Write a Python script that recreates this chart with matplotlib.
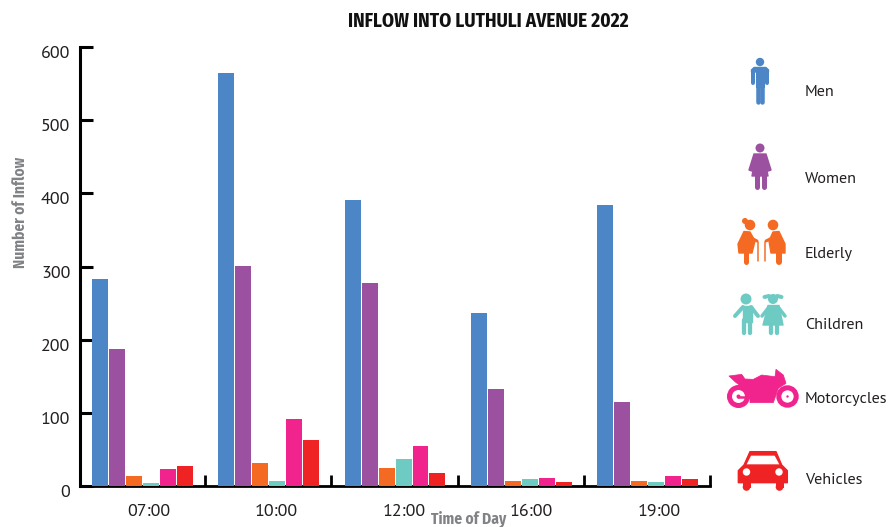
#!/usr/bin/env python3
import logging
import matplotlib
matplotlib.use('Agg')
import matplotlib.pyplot as plt
from matplotlib.patches import Circle, Polygon, Rectangle
from matplotlib.transforms import ScaledTranslation

times = ['07:00', '10:00', '12:00', '16:00', '19:00']
men = [283, 565, 391, 236, 384]
women = [187, 301, 278, 133, 115]
elderly = [14, 31, 25, 7, 7]
children = [4, 7, 37, 9, 5]
motorcycles = [23, 92, 55, 11, 13]
vehicles = [27, 63, 18, 5, 9]
names = ['Men', 'Women', 'Elderly', 'Children', 'Motorcycles', 'Vehicles']
colors = ['#4C86C6', '#9C50A0', '#F56A22', '#6ECBC4', '#F0248C', '#EF2224']
yticks = [0, 100, 200, 300, 400, 500, 600]

logging.getLogger('matplotlib.font_manager').setLevel(logging.ERROR)
plt.rcParams['font.family'] = ['PT Sans', 'Noto Sans', 'DejaVu Sans']
NARROW = ['Fira Sans Condensed', 'Roboto Condensed', 'Liberation Sans', 'DejaVu Sans']
TEXT = '#231F20'

fig = plt.figure(figsize=(8.91, 5.27), dpi=100)
ax = fig.add_axes([80/891, (527-486)/527, 630/891, 439/527])
series = [men, women, elderly, children, motorcycles, vehicles]
step = 17/126.5
for i, vals in enumerate(series):
    xs = [j + (i-2.5)*step for j in range(len(vals))]
    ax.bar(xs, vals, width=16/126.5, color=colors[i], zorder=3, clip_on=False)

ax.set_xlim(-0.4964, 4.484)
ax.set_ylim(0, 600)
ax.spines['top'].set_visible(False)
ax.spines['right'].set_visible(False)
ax.spines['left'].set_linewidth(2.2)
ax.spines['bottom'].set_linewidth(2.0)
ax.set_yticks(yticks)
ax.tick_params(axis='y', direction='in', length=9.5, width=2.2, pad=7,
               labelsize=13, labelcolor=TEXT)
shift = ScaledTranslation(0, -5/100, fig.dpi_scale_trans)
for lab in ax.get_yticklabels():
    lab.set_transform(lab.get_transform() + shift)

ax.set_xticks([j + 0.4956 for j in range(len(times))])
ax.set_xticklabels([])
ax.tick_params(axis='x', which='major', direction='in', length=8, width=2.0)
ax.set_xticks([0.05 + j*127.9/126.5 for j in range(len(times))], minor=True)
ax.set_xticklabels(times, minor=True)
ax.tick_params(axis='x', which='minor', length=0, pad=13, labelsize=13, labelcolor=TEXT)

fig.text(488/891, 1-21/527, 'INFLOW INTO LUTHULI AVENUE 2022', ha='center', va='center',
         family=NARROW, weight='bold', fontsize=13.9, color='#111111')
fig.text(20/891, 1-212/527, 'Number of Inflow', rotation=90, ha='center', va='center',
         family=NARROW, weight='bold', fontsize=11.1, color='#808285')
fig.text(469/891, 1-519/527, 'Time of Day', ha='center', va='center',
         family=NARROW, weight='bold', fontsize=11.1, color='#808285')

# overlay in pixel coordinates for the pictogram legend
ov = fig.add_axes([0, 0, 1, 1], zorder=5)
ov.set_xlim(0, 891)
ov.set_ylim(527, 0)
ov.axis('off')
ov.patch.set_alpha(0)


def limb(pts, w, c):
    ov.plot([p[0] for p in pts], [p[1] for p in pts], color=c, lw=w*0.72,
            solid_capstyle='round', solid_joinstyle='round')


def poly(pts, c, z=2, edge=1.0):
    ov.add_patch(Polygon(pts, closed=True, fc=c, ec=c, lw=edge, joinstyle='round', zorder=z))


def dot(x, y, r, c, z=2):
    ov.add_patch(Circle((x, y), r, fc=c, ec='none', zorder=z))


def zoomed(pts, y0):
    return [(700 + a/3, y0 + b/3) for a, b in pts]


# men
c = colors[0]
dot(760, 62, 4.2, c)
poly([(754, 67.5), (766, 67.5), (768.5, 70), (768.5, 72), (751.5, 72), (751.5, 70)], c)
limb([(753, 71), (753, 83)], 4, c)
limb([(767, 71), (767, 83)], 4, c)
ov.add_patch(Rectangle((755.5, 68), 9, 20, fc=c, ec='none'))
limb([(757.7, 86), (757.7, 102)], 4.5, c)
limb([(762.3, 86), (762.3, 102)], 4.5, c)

# women
c = colors[1]
dot(760, 148, 4.5, c)
poly([(754, 154), (766, 154), (771, 170), (768.5, 171), (766, 165), (768, 176), (752, 176),
      (754, 165), (751.5, 171), (749, 170)], c)
limb([(756.5, 175), (756.5, 187)], 5, c)
limb([(763.5, 175), (763.5, 187)], 5, c)

# elderly
c = colors[2]
dot(750, 225, 5.3, c)
dot(745, 221, 3, c)
dot(773, 225, 5.3, c)
poly([(744, 231.5), (750, 232), (755, 241), (752, 253), (739, 253), (738, 244)], c)
poly([(779, 231.5), (773, 232), (769, 241), (771, 253), (785, 253), (785, 244)], c)
limb([(751, 238), (757, 241)], 3, c)
limb([(772, 238), (766, 241)], 3, c)
limb([(745.5, 252), (745.5, 262)], 5, c)
limb([(778.5, 252), (778.5, 262)], 6, c)
limb([(757.7, 242), (757.7, 261)], 1.5, c)
limb([(765, 242), (765, 261)], 1.5, c)

# children
c = colors[3]
dot(746, 299, 5.5, c)
dot(773, 299, 5, c)
limb([(764.5, 297), (769, 296)], 4, c)
limb([(781.5, 297), (777, 296)], 4, c)
poly([(742.5, 305.5), (751.5, 305.5), (751.5, 322), (742.5, 322)], c)
limb([(743, 307), (735, 316)], 4, c)
limb([(751, 307), (758, 316)], 4, c)
limb([(744, 320), (744, 333)], 4.3, c)
limb([(750, 320), (750, 333)], 4.3, c)
poly([(768, 305.5), (779, 305.5), (783, 325), (763, 325)], c)
limb([(769, 307), (762, 316)], 3.5, c)
limb([(778, 307), (785, 316)], 3.5, c)
limb([(770.5, 324), (770.5, 333)], 4.3, c)
limb([(777, 324), (777, 333)], 4.3, c)

# motorcycle
c = colors[4]
poly(zoomed([(87, 288), (125, 283), (135, 297), (160, 298), (185, 285), (225, 290), (228, 268),
             (250, 285), (258, 310), (235, 325), (220, 368), (150, 368), (150, 345), (130, 325),
             (105, 305)], 280), c, edge=0.5)
for wx, wr in [(738.5, 9), (787.5, 8.7)]:
    ov.add_patch(Circle((wx, 396.5), wr, fc='white', ec=c, lw=3.6, zorder=3))
ov.plot([738, 749], [396.5, 396.5], color=c, lw=1.8, zorder=4, solid_capstyle='round')
dot(738.5, 396.5, 2, c, z=4)
dot(787.5, 396.5, 1.2, c, z=4)

# car
c = colors[5]
poly(zoomed([(150, 515), (228, 515), (245, 555), (262, 572), (262, 608), (115, 608), (115, 572),
             (132, 555)], 280), c)
poly(zoomed([(153, 527), (224, 527), (238, 553), (140, 553)], 280), 'white', z=3, edge=0)
ov.add_patch(Rectangle((742.5, 480), 8, 8, fc=c, ec='none'))
ov.add_patch(Rectangle((775.5, 480), 8, 8, fc=c, ec='none'))
dot(746.5, 487, 3.8, c)
dot(779.5, 487, 3.8, c)
dot(746.5, 472, 3.7, 'white', z=3)
dot(779, 472, 3.7, 'white', z=3)

label_y = [92, 179, 254, 325, 399, 480]
for name, y in zip(names, label_y):
    ov.text(805, y, name, ha='left', va='center', fontsize=11.6, color=TEXT)

fig.savefig('out.png', dpi=100)
